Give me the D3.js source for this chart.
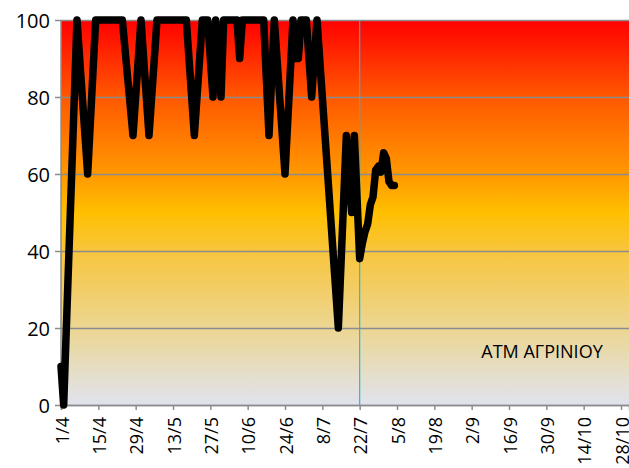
<!DOCTYPE html>
<html>
<head>
<meta charset="utf-8">
<script src="https://cdn.jsdelivr.net/npm/d3@7"></script>
<style>
  body { margin: 0; background: #fff; }
  svg { display: block; }
  text { font-family: "Open Sans", "Noto Sans", sans-serif; fill: #000; }
</style>
</head>
<body>
<div id="chart"></div>
<script>
// ---- data ----
const dates = ["1/4","2/4","7/4","11/4","14/4","24/4","28/4","1/5","4/5","7/5",
  "18/5","21/5","24/5","26/5","28/5","29/5","31/5","1/6","6/6","7/6","8/6",
  "16/6","18/6","20/6","24/6","27/6","28/6","29/6","30/6","2/7","4/7","6/7",
  "14/7","17/7","19/7","20/7","22/7","23/7","24/7","25/7","26/7","27/7","28/7",
  "29/7","30/7","31/7","1/8","2/8","3/8","4/8"];
const values = [10,0,100,60,100,100,70,100,70,100,
  100,70,100,100,80,100,80,100,100,90,100,
  100,70,100,60,100,90,90,100,100,80,100,
  20,70,50,70,38,42,45,47,52,54,61,
  62,60.5,65.5,64,58,57,57];
const tickLabels = ["1/4","15/4","29/4","13/5","27/5","10/6","24/6","8/7","22/7",
  "5/8","19/8","2/9","16/9","30/9","14/10","28/10"];
const yTicks = [0,20,40,60,80,100];
const markerDate = "22/7";
const seriesName = "ATM ΑΓΡΙΝΙΟΥ";
const year = 2013;

// ---- setup ----
const W = 629, H = 468;
const parse = s => { const [d, m] = s.split("/").map(Number); return new Date(year, m - 1, d); };
const pLeft = 61, pRight = 629, pTop = 20, pBottom = 405;

const x = d3.scaleTime().domain([new Date(year, 3, 1), new Date(year, 9, 31)]).range([pLeft, pRight]);
const y = d3.scaleLinear().domain([0, 100]).range([pBottom, pTop]);

const svg = d3.select("#chart").append("svg").attr("width", W).attr("height", H);

// gradient background
const defs = svg.append("defs");
const grad = defs.append("linearGradient").attr("id", "bg").attr("x1", 0).attr("y1", 0).attr("x2", 0).attr("y2", 1);
[[0, "#ff0000"], [0.2, "#ff5800"], [0.4, "#ff9800"], [0.5, "#ffbf00"], [0.6, "#f8c53c"],
 [0.8, "#ecd692"], [1, "#e0e3ee"]].forEach(([o, c]) =>
  grad.append("stop").attr("offset", o).attr("stop-color", c));

svg.append("rect").attr("x", pLeft).attr("y", pTop).attr("width", pRight - pLeft).attr("height", pBottom - pTop)
  .attr("fill", "url(#bg)");

// horizontal gridlines + y labels
const yAxis = d3.axisLeft(y).tickValues(yTicks).tickSize(0).tickFormat(d3.format("d"));
const gy = svg.append("g").attr("transform", `translate(${pLeft - 6},0)`).call(yAxis);
gy.select(".domain").remove();
gy.selectAll(".tick line").attr("stroke", "#8c8c8c").attr("stroke-width", 1.5)
  .attr("x1", 0).attr("x2", pRight - pLeft + 6);
gy.selectAll(".tick text").attr("x", -5).attr("font-size", 20).attr("dy", "0.35em");

// y axis line
svg.append("line").attr("x1", pLeft).attr("x2", pLeft).attr("y1", pTop).attr("y2", pBottom)
  .attr("stroke", "#8c8c8c").attr("stroke-width", 1.5);

// x axis
const xAxis = d3.axisBottom(x).tickValues(tickLabels.map(parse)).tickSize(5)
  .tickFormat((d, i) => tickLabels[i]);
const gx = svg.append("g").attr("transform", `translate(0,${pBottom})`).call(xAxis);
gx.select(".domain").attr("stroke", "#8c8c8c").attr("stroke-width", 1.5);
gx.selectAll(".tick line").attr("stroke", "#8c8c8c").attr("stroke-width", 1.5);
gx.selectAll(".tick text").attr("font-size", 18)
  .attr("transform", "rotate(-90)").attr("text-anchor", "end")
  .attr("x", -12).attr("y", 1).attr("dy", "0.35em");

// marker vertical line
svg.append("line").attr("x1", x(parse(markerDate))).attr("x2", x(parse(markerDate)))
  .attr("y1", pTop).attr("y2", pBottom).attr("stroke", "#2fb4d6").attr("stroke-width", 1.2);

// series line
const pts = dates.map((d, i) => [parse(d), values[i]]);
svg.append("path").datum(pts)
  .attr("d", d3.line().x(d => x(d[0])).y(d => y(d[1])))
  .attr("fill", "none").attr("stroke", "#000").attr("stroke-width", 7.5)
  .attr("stroke-linejoin", "round").attr("stroke-linecap", "round");

// series label
svg.append("text").attr("x", 542).attr("y", 352).attr("dy", "0.35em").attr("text-anchor", "middle")
  .attr("font-size", 18).text(seriesName);
</script>
</body>
</html>
